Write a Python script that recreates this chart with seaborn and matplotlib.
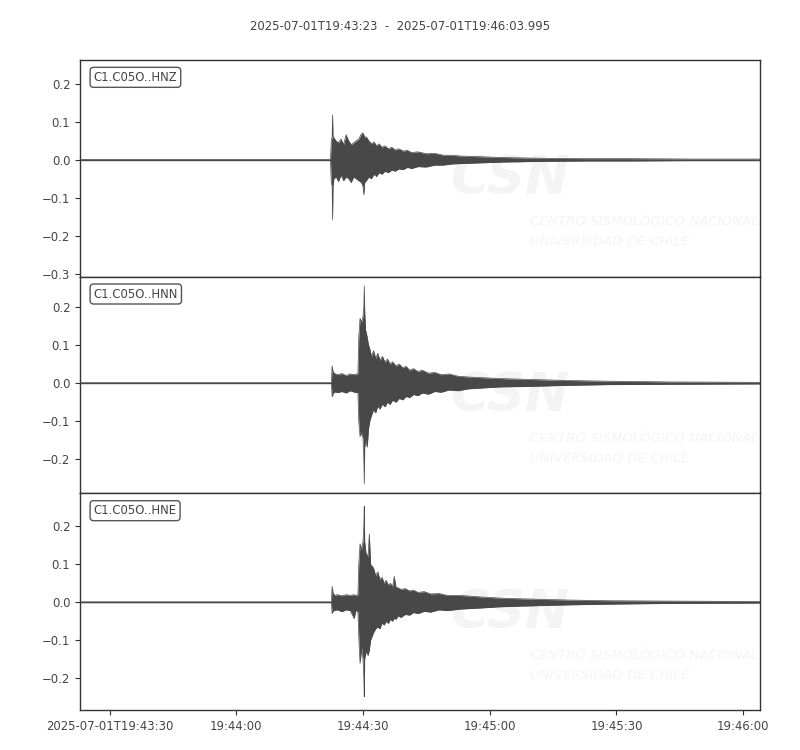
import pandas as pd
import numpy as np
import seaborn as sns
import matplotlib.pyplot as plt

# waveform envelopes (seconds after 19:43:23, upper / lower amplitude)
start = pd.Timestamp('2025-07-01 19:43:23')
end = pd.Timestamp('2025-07-01 19:46:03.995')

hnz_t = [0, 59.3, 59.5, 59.7, 59.8, 59.9, 60.1, 60.6, 61.2, 61.8, 62.4, 63.0, 63.6, 64.2, 64.8, 65.4, 66.0,
         66.6, 67.0, 67.2, 67.4, 67.8, 68.4, 69.0, 69.6, 70.2, 70.8, 71.5, 72.2, 73.0, 73.8, 74.6, 75.5, 76.5,
         77.5, 78.5, 80, 82, 84, 86, 88, 90, 95, 100, 110, 120, 130, 145, 161]
hnz_up = [0.001, 0.001, 0.05, 0.06, 0.118, 0.06, 0.058, 0.05, 0.045, 0.055, 0.04, 0.066, 0.05, 0.04, 0.045,
          0.05, 0.055, 0.068, 0.071, 0.065, 0.06, 0.06, 0.05, 0.042, 0.047, 0.037, 0.042, 0.033, 0.037, 0.029,
          0.033, 0.026, 0.029, 0.023, 0.025, 0.019, 0.021, 0.016, 0.017, 0.012, 0.012, 0.01, 0.008, 0.006,
          0.004, 0.003, 0.003, 0.002, 0.002]
hnz_lo = [-0.001, -0.001, -0.06, -0.07, -0.158, -0.07, -0.05, -0.045, -0.057, -0.04, -0.055, -0.045, -0.05,
          -0.06, -0.045, -0.05, -0.055, -0.06, -0.07, -0.092, -0.06, -0.055, -0.045, -0.05, -0.038, -0.044,
          -0.034, -0.038, -0.03, -0.034, -0.027, -0.03, -0.024, -0.026, -0.02, -0.023, -0.018, -0.019, -0.014,
          -0.014, -0.011, -0.01, -0.008, -0.006, -0.004, -0.003, -0.003, -0.002, -0.002]

hnn_t = [0, 59.5, 59.7, 59.9, 60.3, 61, 62, 63, 64, 65, 65.8, 66.0, 66.3, 66.7, 67.0, 67.2, 67.3, 67.4,
         67.6, 68.0, 68.3, 68.6, 69.0, 69.5, 70.0, 70.5, 71.0, 71.6, 72.2, 72.8, 73.4, 74.0, 74.8, 75.6, 76.4,
         77.2, 78.0, 79.0, 80.0, 81.0, 82.5, 84.0, 85.5, 87.4, 89.5, 92, 99.3, 105, 115, 125, 140, 161]
hnn_up = [0.001, 0.001, 0.045, 0.03, 0.025, 0.022, 0.025, 0.02, 0.024, 0.022, 0.025, 0.12, 0.17, 0.16, 0.175,
          0.2, 0.255, 0.19, 0.14, 0.12, 0.1, 0.09, 0.07, 0.085, 0.065, 0.078, 0.06, 0.07, 0.055, 0.063, 0.05,
          0.056, 0.045, 0.05, 0.04, 0.044, 0.034, 0.038, 0.03, 0.034, 0.026, 0.028, 0.022, 0.024, 0.018, 0.016,
          0.012, 0.01, 0.007, 0.005, 0.003, 0.002]
hnn_lo = [-0.001, -0.001, -0.036, -0.028, -0.023, -0.025, -0.022, -0.026, -0.02, -0.024, -0.025, -0.1, -0.14,
          -0.13, -0.145, -0.2, -0.264, -0.17, -0.15, -0.168, -0.12, -0.1, -0.085, -0.07, -0.078, -0.06, -0.068,
          -0.055, -0.062, -0.05, -0.056, -0.045, -0.05, -0.04, -0.044, -0.035, -0.038, -0.03, -0.033, -0.026,
          -0.029, -0.022, -0.024, -0.018, -0.02, -0.015, -0.01, -0.009, -0.006, -0.004, -0.003, -0.002]

hne_t = [0, 59.5, 59.7, 59.9, 60.3, 61, 62, 63, 64, 64.9, 65.3, 65.8, 66.0, 66.3, 66.7, 67.0, 67.2, 67.3,
         67.4, 67.7, 68.2, 68.5, 68.8, 69.5, 70.0, 70.5, 71.0, 71.5, 72.0, 72.5, 73.0, 73.5, 74.0, 74.4, 74.8,
         75.3, 76.0, 77.0, 78.0, 79.0, 80.0, 81.5, 83.0, 85.0, 87.0, 90.0, 95.0, 99.3, 105, 115, 125, 140, 161]
hne_up = [0.001, 0.001, 0.042, 0.025, 0.018, 0.02, 0.017, 0.02, 0.018, 0.02, 0.018, 0.02, 0.1, 0.154, 0.14,
          0.16, 0.2, 0.253, 0.16, 0.13, 0.12, 0.18, 0.1, 0.09, 0.07, 0.08, 0.06, 0.066, 0.05, 0.058, 0.045,
          0.05, 0.04, 0.068, 0.04, 0.038, 0.034, 0.036, 0.03, 0.032, 0.026, 0.028, 0.022, 0.023, 0.018, 0.018,
          0.014, 0.011, 0.009, 0.006, 0.004, 0.003, 0.002]
hne_lo = [-0.001, -0.001, -0.03, -0.024, -0.021, -0.02, -0.025, -0.02, -0.022, -0.043, -0.022, -0.024, -0.09,
          -0.161, -0.12, -0.15, -0.2, -0.249, -0.15, -0.13, -0.14, -0.126, -0.1, -0.08, -0.07, -0.065, -0.07,
          -0.055, -0.06, -0.05, -0.056, -0.045, -0.05, -0.042, -0.045, -0.036, -0.04, -0.032, -0.034, -0.027,
          -0.03, -0.024, -0.026, -0.02, -0.022, -0.018, -0.015, -0.012, -0.01, -0.007, -0.005, -0.003, -0.002]

channels = ['C1.C05O..HNZ', 'C1.C05O..HNN', 'C1.C05O..HNE']
ylims = [(-0.308, 0.263), (-0.289, 0.279), (-0.284, 0.287)]
yticks = [[0.2, 0.1, 0.0, -0.1, -0.2, -0.3], [0.2, 0.1, 0.0, -0.1, -0.2], [0.2, 0.1, 0.0, -0.1, -0.2]]
tick_times = ['19:43:30', '19:44:00', '19:44:30', '19:45:00', '19:45:30', '19:46:00']
tick_labels = ['2025-07-01T19:43:30', '19:44:00', '19:44:30', '19:45:00', '19:45:30', '19:46:00']

traces = [(hnz_t, hnz_up, hnz_lo), (hnn_t, hnn_up, hnn_lo), (hne_t, hne_up, hne_lo)]

sns.set_style('ticks')
plt.rcParams['font.family'] = ['DejaVu Sans']
plt.rcParams['font.size'] = 8.4
plt.rcParams['text.color'] = '#444444'
plt.rcParams['xtick.color'] = '#333333'
plt.rcParams['ytick.color'] = '#333333'
plt.rcParams['xtick.labelcolor'] = '#444444'
plt.rcParams['ytick.labelcolor'] = '#444444'
plt.rcParams['axes.edgecolor'] = '#333333'

trace_color = '#484848'
wm_color = '#f4f4f4'
fig, axes = plt.subplots(3, 1, figsize=(8, 7.5), dpi=100, sharex=True, gridspec_kw={'hspace': 0})
fig.subplots_adjust(left=0.1, right=0.95, top=0.92, bottom=0.0533)

for ax, (t, up, lo), name, yl, yt in zip(axes, traces, channels, ylims, yticks):
    times = start + pd.to_timedelta(t, unit='s')
    # faint CSN watermark
    ax.text(0.632, 0.45, 'CSN', transform=ax.transAxes, fontsize=38, fontweight='bold', style='italic',
            color=wm_color, ha='center', va='center', zorder=0)
    ax.text(0.662, 0.253, 'CENTRO SISMOLÓGICO NACIONAL', transform=ax.transAxes, fontsize=9.6,
            style='italic', color=wm_color, ha='left', va='center', zorder=0)
    ax.text(0.662, 0.161, 'UNIVERSIDAD DE CHILE', transform=ax.transAxes, fontsize=9.6,
            style='italic', color=wm_color, ha='left', va='center', zorder=0)
    ax.fill_between(times, lo, up, color=trace_color, lw=0, zorder=2)
    sns.lineplot(x=times, y=up, ax=ax, color=trace_color, lw=0.5, zorder=3)
    sns.lineplot(x=times, y=lo, ax=ax, color=trace_color, lw=0.5, zorder=3)
    ax.axhline(0, color=trace_color, lw=1.0, zorder=2)
    ax.set_ylim(*yl)
    ax.set_yticks(yt)
    ax.set_yticklabels([f'{v:.1f}'.replace('-', '\u2212') for v in yt])
    ax.set_ylabel('')
    ax.set_xlabel('')
    ax.text(0.02, 0.95, name, transform=ax.transAxes, ha='left', va='top', fontsize=8.4, color='#444444',
            bbox=dict(boxstyle='round,pad=0.3', fc='white', ec='#555555', lw=1))
    for s in ax.spines.values():
        s.set_visible(True)
        s.set_linewidth(1.0)

axes[-1].set_xlim(start, end)
axes[-1].set_xticks([pd.Timestamp('2025-07-01 ' + s) for s in tick_times])
axes[-1].set_xticklabels(tick_labels)
for ax in axes[:-1]:
    ax.tick_params(axis='x', labelbottom=False, length=0)

fig.suptitle('2025-07-01T19:43:23  -  2025-07-01T19:46:03.995', x=0.5, y=0.973, fontsize=8.4,
             color='#444444')
fig.savefig('out.png', dpi=100)
